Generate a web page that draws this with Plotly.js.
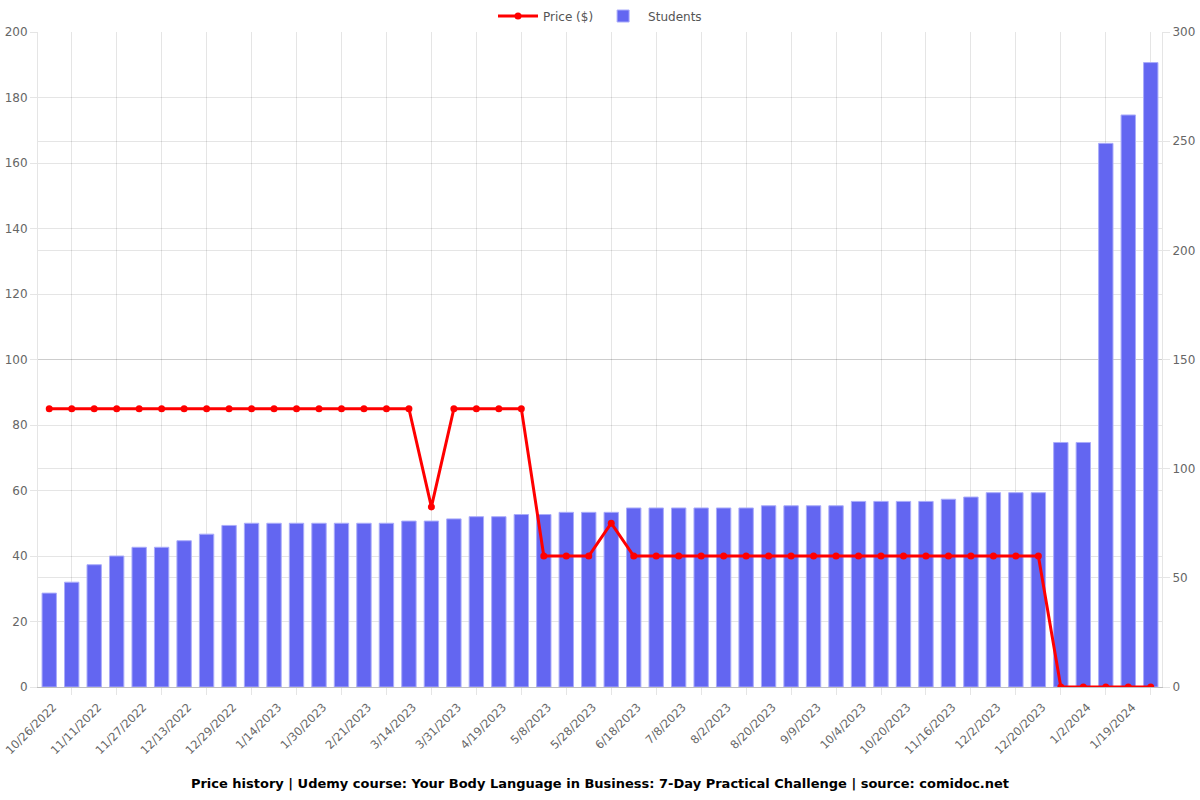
<!DOCTYPE html>
<html>
<head>
<meta charset="utf-8">
<script src="https://cdn.plot.ly/plotly-3.0.1.min.js"></script>
<style>html,body{margin:0;padding:0;background:#fff;}#chart{width:1200px;height:800px;}</style>
</head>
<body>
<div id="chart"></div>
<script>
// Labeled dates (every other data point is labeled on the axis)
var dateLabels = ["10/26/2022","11/11/2022","11/27/2022","12/13/2022","12/29/2022","1/14/2023","1/30/2023","2/21/2023","3/14/2023","3/31/2023","4/19/2023","5/8/2023","5/28/2023","6/18/2023","7/8/2023","8/2/2023","8/20/2023","9/9/2023","10/4/2023","10/20/2023","11/16/2023","12/2/2023","12/20/2023","1/2/2024","1/19/2024"];

var price = [85,85,85,85,85,85,85,85,85,85,85,85,85,85,85,85,85,55,85,85,85,85,40,40,40,50,40,40,40,40,40,40,40,40,40,40,40,40,40,40,40,40,40,40,40,0,0,0,0,0];

var students = [43,48,56,60,64,64,67,70,74,75,75,75,75,75,75,75,76,76,77,78,78,79,79,80,80,80,82,82,82,82,82,82,83,83,83,83,85,85,85,85,86,87,89,89,89,112,112,249,262,286];

var idx = students.map(function(_, i){ return i; });
var labelVals = dateLabels.map(function(_, i){ return i * 2; });
var gridVals = dateLabels.map(function(_, i){ return i * 2 + 1; });

var font = "DejaVu Sans, sans-serif";
var gridColor = "rgba(0,0,0,0.1)";

var traces = [
  {
    type: "scatter", mode: "lines+markers", name: "Price ($)",
    x: idx, y: price, xaxis: "x2", yaxis: "y2",
    line: {color: "#ff0000", width: 3},
    marker: {color: "#ff0000", size: 7}
  },
  {
    type: "bar", name: "Students",
    x: idx, y: students, xaxis: "x", yaxis: "y",
    width: 0.64,
    marker: {color: "#6366f1", line: {color: "rgba(170,172,250,1)", width: 1}}
  }
];

var layout = {
  width: 1200, height: 800,
  margin: {l: 38, r: 38, t: 32, b: 113, autoexpand: false},
  paper_bgcolor: "#fff", plot_bgcolor: "#fff",
  font: {family: font, size: 12, color: "#666"},
  showlegend: true,
  legend: {orientation: "h", x: 0.5, xanchor: "center", xref: "paper",
           y: 0.98, yanchor: "middle", yref: "container",
           font: {family: font, size: 12, color: "#555"}, traceorder: "normal", itemwidth: 40},
  bargap: 0.36,
  title: {text: "<b>Price history | Udemy course: Your Body Language in Business: 7-Day Practical Challenge | source: comidoc.net</b>",
          font: {family: font, size: 13, color: "#000"}, x: 0.5, xanchor: "center", y: 0.021, yanchor: "middle"},
  xaxis: {
    range: [-0.5, 49.5], tickmode: "array", tickvals: labelVals, ticktext: dateLabels,
    tickangle: -45, showgrid: false, zeroline: false, ticklabeloverflow: "allow",
    ticklabelshift: 4,
    ticks: "outside", ticklen: 8, tickcolor: "rgba(0,0,0,0)",
    showline: true, linecolor: "rgba(0,0,0,0.25)", linewidth: 1,
    tickfont: {family: font, size: 11.5, color: "#666"}
  },
  xaxis2: {
    overlaying: "x", anchor: "y2", side: "bottom",
    range: [-0.5, 49.5], tickmode: "array", tickvals: gridVals, showticklabels: false,
    showgrid: true, gridcolor: gridColor, zeroline: false,
    ticks: "outside", ticklen: 7, tickcolor: gridColor
  },
  yaxis: {
    side: "right", range: [0, 300], dtick: 50, tick0: 0,
    showgrid: true, gridcolor: gridColor, zeroline: false,
    ticks: "outside", ticklen: 7, tickcolor: gridColor,
    showline: true, linecolor: "rgba(0,0,0,0.1)",
    tickfont: {family: font, size: 12, color: "#666"}
  },
  yaxis2: {
    side: "left", overlaying: "y", range: [0, 200], dtick: 20, tick0: 0,
    showgrid: true, gridcolor: gridColor, zeroline: false,
    ticks: "outside", ticklen: 7, tickcolor: gridColor,
    showline: true, linecolor: "rgba(0,0,0,0.1)",
    tickfont: {family: font, size: 12, color: "#666"}
  }
};

Plotly.newPlot("chart", traces, layout, {displayModeBar: false, staticPlot: true});
</script>
</body>
</html>
